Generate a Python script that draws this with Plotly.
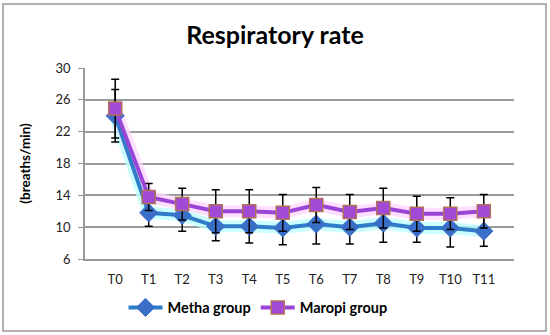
import plotly.graph_objects as go

categories = ["T0", "T1", "T2", "T3", "T4", "T5", "T6", "T7", "T8", "T9", "T10", "T11"]
metha = [24.0, 11.8, 11.5, 10.1, 10.1, 9.9, 10.4, 10.0, 10.5, 9.9, 9.9, 9.5]
metha_sd = [3.3, 1.7, 2.0, 1.8, 2.1, 2.1, 2.5, 2.1, 2.4, 1.8, 2.4, 1.9]
maropi = [24.9, 13.8, 12.9, 12.0, 12.0, 11.8, 12.8, 11.9, 12.4, 11.7, 11.7, 12.0]
maropi_sd = [3.7, 1.7, 2.0, 2.7, 2.7, 2.3, 2.2, 2.2, 2.5, 2.2, 2.0, 2.1]
y_ticks = [6, 10, 14, 18, 22, 26, 30]

FONT = "Lato, 'Open Sans', sans-serif"

fig = go.Figure()

# soft glow underlays
fig.add_trace(go.Scatter(x=categories, y=metha, mode="lines",
                         line=dict(color="rgba(190,255,255,0.8)", width=12),
                         showlegend=False, hoverinfo="skip"))
fig.add_trace(go.Scatter(x=categories, y=maropi, mode="lines",
                         line=dict(color="rgba(255,215,255,0.8)", width=12),
                         showlegend=False, hoverinfo="skip"))

fig.add_trace(go.Scatter(
    x=categories, y=metha, name="<b>Metha group</b>", mode="lines+markers",
    line=dict(color="#2F7DC8", width=4),
    marker=dict(symbol="diamond", size=14, color="#3A6FC8",
                line=dict(color="#3A6FC8", width=1)),
    error_y=dict(type="data", array=metha_sd, visible=True,
                 color="black", thickness=1.5, width=4),
))
fig.add_trace(go.Scatter(
    x=categories, y=maropi, name="<b>Maropi group</b>", mode="lines+markers",
    line=dict(color="#9B45D6", width=4),
    marker=dict(symbol="square", size=13, color="#A24AD8",
                line=dict(color="#B0705A", width=1.5)),
    error_y=dict(type="data", array=maropi_sd, visible=True,
                 color="black", thickness=1.5, width=4),
))

fig.update_layout(
    width=550, height=335,
    margin=dict(l=85, r=36, t=68, b=76, autoexpand=False),
    paper_bgcolor="white", plot_bgcolor="white",
    font=dict(family=FONT, size=13, color="#222"),
    title=dict(text="<b>Respiratory rate</b>", x=0.5, xanchor="center",
               y=0.895, yanchor="middle",
               font=dict(family=FONT, size=25, color="black")),
    legend=dict(orientation="h", x=(258 - 85) / 429, xanchor="center", y=-0.17, yanchor="top",
                font=dict(family=FONT, size=14.5, color="black"),
                itemwidth=34, tracegroupgap=0, bgcolor="rgba(0,0,0,0)"),
    showlegend=True,
)
fig.update_xaxes(
    type="category", showgrid=False, showline=True, linecolor="#999", linewidth=1.5,
    ticks="", ticklabelstandoff=8,
    tickfont=dict(family=FONT, size=13, color="#222"), fixedrange=True,
)
fig.update_yaxes(
    range=[6, 30], tickvals=y_ticks, showgrid=True, gridcolor="#9a9a9a", gridwidth=1.5,
    showline=True, linecolor="#999", linewidth=1.5, ticks="outside", ticklen=5,
    tickcolor="#999", zeroline=False, ticklabelstandoff=5,
    tickfont=dict(family=FONT, size=13, color="#222"),
    title=dict(text="<b>(breaths/min)</b>", font=dict(family=FONT, size=13.5, color="black"),
               standoff=22),
)
# outer chart border
fig.add_shape(type="rect", xref="paper", yref="paper",
              x0=(3 - 85) / 429, x1=(546 - 85) / 429,
              y0=(259 - 331) / 191, y1=(259 - 4) / 191,
              line=dict(color="#999", width=1.5), fillcolor="rgba(0,0,0,0)", layer="below")

fig.write_html("out.html", config={"displayModeBar": False},
               post_script="document.body.style.margin='0';")
